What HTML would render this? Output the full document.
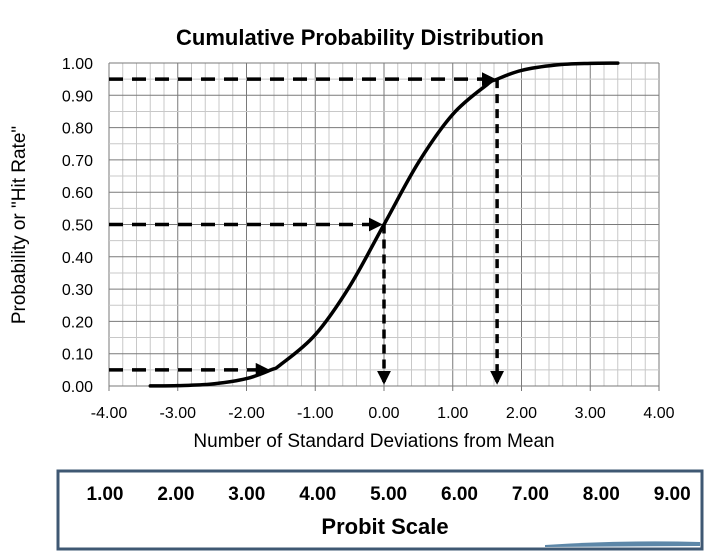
<!DOCTYPE html>
<html><head><meta charset="utf-8"><style>
body{margin:0;background:#fff;width:714px;height:555px;overflow:hidden;font-family:"Liberation Sans",sans-serif}
</style></head><body>
<svg id="chart" width="714" height="555" xmlns="http://www.w3.org/2000/svg" font-family="Liberation Sans, sans-serif">
<defs><marker id="ah" markerWidth="4" markerHeight="4" refX="3.2" refY="2" orient="auto" markerUnits="strokeWidth"><path d="M0,0 L4,2 L0,4 z" fill="#000"/></marker></defs>
<text x="360" y="45" text-anchor="middle" font-size="22" font-weight="bold">Cumulative Probability Distribution</text>
<g id="grid"></g><g id="ticks"></g><g id="guides"></g><g id="curve"></g>
<text transform="translate(25,225) rotate(-90)" text-anchor="middle" font-size="19">Probability or "Hit Rate"</text>
<text x="374" y="447" text-anchor="middle" font-size="19">Number of Standard Deviations from Mean</text>
<rect x="58" y="471" width="644" height="78" fill="#fff" stroke="#3f5873" stroke-width="3"/>
<path d="M545,545 Q620,540 700,542 L700,546 L545,547 z" fill="#5d87a8"/>
<g id="probit"></g>
<text x="385" y="534" text-anchor="middle" font-size="22" font-weight="bold">Probit Scale</text>
</svg>
<script>
const zValues=[-3.4,-3,-2.5,-2,-1.645,-1.5,-1,-0.5,0,0.5,1,1.5,1.645,2,2.5,3,3.4];
const pValues=[0.0003,0.0013,0.0062,0.0228,0.05,0.0668,0.1587,0.3085,0.5,0.6915,0.8413,0.9332,0.95,0.9772,0.9938,0.9987,0.9997];
const xTicks=[-4,-3,-2,-1,0,1,2,3,4];
const yTicks=[0,0.1,0.2,0.3,0.4,0.5,0.6,0.7,0.8,0.9,1.0];
const guideZ=[-1.645,0,1.645];
const guideP=[0.05,0.5,0.95];
const probitLabels=["1.00","2.00","3.00","4.00","5.00","6.00","7.00","8.00","9.00"];
const NS="http://www.w3.org/2000/svg";
const X0=109,X1=659,Y0=386,Y1=63;
const sx=v=>X0+(v+4)/8*(X1-X0);
const sy=v=>Y0-v*(Y0-Y1);
function mk(parent,tag,attrs){const e=document.createElementNS(NS,tag);for(const k in attrs)e.setAttribute(k,attrs[k]);document.getElementById(parent).appendChild(e);return e;}
for(let i=0;i<=40;i++){const v=-4+i*0.2;const maj=i%5===0;
 const l=mk('grid','line',{x1:sx(v),x2:sx(v),y1:Y1,y2:Y0,stroke:maj?'#7a7a7a':'#c8c8c8','stroke-width':1});
 
 }
for(let i=0;i<=20;i++){const v=i*0.05;const maj=i%2===0;
 const l=mk('grid','line',{x1:X0,x2:X1,y1:sy(v),y2:sy(v),stroke:maj?'#7a7a7a':'#c8c8c8','stroke-width':1});
 
 }
xTicks.forEach(v=>{const t=mk('ticks','text',{x:sx(v),y:418,'text-anchor':'middle','font-size':16});t.textContent=v.toFixed(2);
 
 
 const m=mk('ticks','line',{x1:sx(v),x2:sx(v),y1:Y0,y2:Y0+5,stroke:'#777'});
 
 });
yTicks.forEach(v=>{const t=mk('ticks','text',{x:93,y:sy(v)+6,'text-anchor':'end','font-size':16});t.textContent=v.toFixed(2);
 
 });
guideZ.forEach((z,i)=>{const p=guideP[i];
 const h=mk('guides','line',{x1:X0,y1:sy(p),x2:sx(z)-4,y2:sy(p),stroke:'#000','stroke-width':3.5,'stroke-dasharray':'14,9','marker-end':'url(#ah)'});
 
 
 if(p>=0.5){const v=mk('guides','line',{x1:sx(z),y1:sy(p),x2:sx(z),y2:Y0-4,stroke:'#000','stroke-width':3.5,'stroke-dasharray':'9,6','marker-end':'url(#ah)'});
  
  }});
// smooth Catmull-Rom path through data points
const pts=zValues.map((z,i)=>[sx(z),sy(pValues[i])]);
let d='M'+pts[0][0].toFixed(1)+','+pts[0][1].toFixed(1);
for(let i=0;i<pts.length-1;i++){const p0=pts[Math.max(0,i-1)],p1=pts[i],p2=pts[i+1],p3=pts[Math.min(pts.length-1,i+2)];
 const c1=[p1[0]+(p2[0]-p0[0])/6,p1[1]+(p2[1]-p0[1])/6],c2=[p2[0]-(p3[0]-p1[0])/6,p2[1]-(p3[1]-p1[1])/6];
 d+='C'+c1.map(n=>n.toFixed(1)).join(',')+' '+c2.map(n=>n.toFixed(1)).join(',')+' '+p2.map(n=>n.toFixed(1)).join(',');}
const c=mk('curve','path',{d:d,fill:'none',stroke:'#000','stroke-width':3.5,'stroke-linejoin':'round','stroke-linecap':'round'});


probitLabels.forEach((s,i)=>{const t=mk('probit','text',{x:105+i*70.9,y:500,'text-anchor':'middle','font-size':19,'font-weight':'bold'});t.textContent=s;
 
 });
</script>
</body></html>
